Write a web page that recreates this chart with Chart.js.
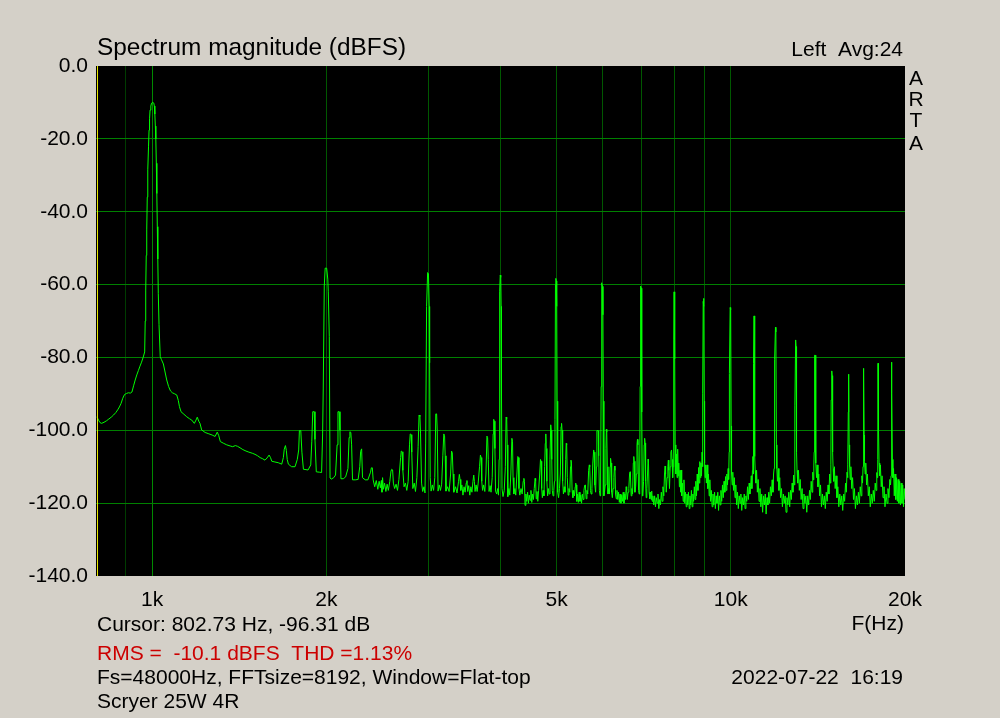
<!DOCTYPE html>
<html>
<head>
<meta charset="utf-8">
<title>Spectrum magnitude</title>
<script src="https://cdn.jsdelivr.net/npm/chart.js@4.4.1/dist/chart.umd.min.js"></script>
<style>
  html, body { margin: 0; padding: 0; background: #d4d0c8; overflow: hidden; }
  canvas { display: block; }
</style>
</head>
<body>
<canvas id="spectrumChart" width="1000" height="718"></canvas>
<script>
const spectrum = [
  [803,-96.3],[808,-97.2],[813,-97.9],[818,-98.1],[826,-97.8],[834,-97.4],[842,-96.9],[850,-96.4],
  [858,-95.8],[866,-95.1],[872,-94.4],[878,-93.6],[884,-92.6],[890,-91.2],[896,-90.2],[903,-89.9],
  [910,-89.7],[917,-89.8],[923,-89.5],[929,-87.8],[935,-86.2],[941,-84.8],[947,-83.6],[953,-82.4],
  [959,-81.3],[965,-80.0],[971,-78.5],
  // fundamental
  [973,-70.0],[975,-61.5],[977,-52.0],[979,-45.0],[981,-36.0],[983,-28.5],[986,-22.0],[988,-17.6],
  [990,-14.5],[992,-12.1],[995,-11.0],[998,-10.2],[1003,-10.0],[1007,-10.2],[1009,-11.0],[1011,-13.2],
  [1013,-16.5],[1015,-20.0],[1017,-26.7],[1019,-35.0],[1021,-44.1],[1023,-53.0],[1025,-62.4],[1028,-71.0],
  [1033,-79.8],[1038,-80.6],[1046,-81.8],[1053,-84.0],[1060,-86.2],[1068,-88.0],[1076,-89.2],[1084,-89.7],
  [1094,-90.0],[1103,-90.3],[1110,-91.8],[1115,-93.5],[1122,-94.9],[1135,-95.6],[1148,-96.3],[1160,-96.8],
  [1171,-97.2],[1183,-98.1],[1191,-97.2],[1197,-96.4],[1204,-97.5],[1210,-98.1],[1218,-99.9],[1235,-100.6],
  [1250,-100.9],[1270,-101.3],[1285,-101.7],[1296,-100.5],[1304,-101.5],[1312,-103.1],[1330,-103.6],[1346,-104.0],
  [1364,-104.3],[1378,-104.5],[1393,-104.2],[1405,-104.4],[1419,-104.8],[1435,-105.3],[1453,-105.7],[1470,-106.0],
  [1490,-106.3],[1506,-106.6],[1522,-107.0],[1537,-107.5],[1552,-107.8],[1567,-108.2],[1580,-107.6],[1593,-106.8],
  [1602,-107.5],[1610,-108.5],[1630,-108.7],[1652,-108.9],[1675,-109.3],[1686,-107.5],[1692,-105.2],[1700,-104.2],
  [1706,-105.5],[1712,-108.0],[1720,-109.3],[1742,-110.0],[1766,-110.0],[1782,-108.0],[1792,-105.4],[1797,-100.1],
  [1807,-100.1],[1815,-106.0],[1826,-110.7],[1845,-110.8],[1860,-110.9],[1880,-109.5],[1888,-103.0],[1895,-94.9],
  [1906,-94.9],[1912,-102.5],[1922,-111.4],[1945,-111.5],[1963,-111.6],[1971,-101.0],
  // 2nd harmonic
  [1976,-88.4],[1984,-60.4],[1991,-55.5],[2003,-55.5],[2012,-58.5],[2016,-62.0],[2024,-74.3],[2030,-113.1],
  [2040,-113.4],[2060,-113.0],[2075,-112.3],[2088,-104.0],[2095,-94.9],[2105,-94.9],[2112,-100.0],[2120,-113.3],
  [2140,-113.3],[2160,-112.8],[2180,-110.5],[2190,-102.0],[2197,-100.4],[2205,-100.6],[2212,-104.0],[2220,-113.6],
  [2245,-113.6],[2270,-113.5],[2285,-110.0],[2293,-105.8],[2302,-105.1],[2310,-113.0],[2335,-113.6],[2360,-113.6],
  [2385,-111.5],[2393,-110.3],[2402,-110.3],[2410,-113.6],[2425,-115.5],[2440,-113.8],[2455,-116.2],[2468,-114.0],
  [2480,-115.8],[2490,-113.8],[2496,-117.0],[2502,-113.0],[2510,-116.2],[2522,-114.5],[2535,-116.8],[2548,-114.8],
  [2560,-116.5],[2575,-114.0],[2588,-111.0],[2595,-110.7],[2604,-110.9],[2612,-114.5],[2625,-116.0],[2640,-114.8],
  [2655,-116.5],[2670,-113.5],[2688,-107.5],[2695,-105.7],[2704,-105.9],[2712,-111.0],[2725,-115.5],[2740,-114.5],
  [2755,-116.5],[2770,-114.0],[2785,-104.0],[2793,-101.0],[2803,-101.2],[2810,-106.0],[2822,-116.0],[2838,-114.5],
  [2852,-116.8],[2868,-113.0],[2882,-104.5],[2893,-95.8],[2903,-96.2],[2910,-101.0],[2922,-114.5],[2935,-116.8],
  [2950,-115.5],[2962,-117.2],
  // 3rd harmonic
  [2970,-103.5],[2981,-66.0],[2993,-56.7],[3003,-57.0],[3012,-66.0],[3017,-81.5],[3024,-113.0],
  [3035,-116.7],[3050,-115.0],[3065,-116.5],[3080,-113.0],[3092,-95.5],[3102,-95.5],[3110,-100.0],[3120,-116.7],
  [3135,-115.0],[3150,-116.5],[3165,-114.8],[3180,-107.0],[3192,-101.0],[3202,-101.5],[3210,-107.0],[3220,-116.7],
  [3240,-115.5],[3260,-116.8],[3280,-112.0],[3292,-105.7],[3302,-106.2],[3312,-112.0],[3322,-117.0],[3345,-115.5],
  [3365,-117.2],[3385,-114.0],[3396,-112.1],[3405,-113.5],[3415,-116.5],[3430,-115.0],[3445,-117.8],[3460,-115.5],
  [3475,-117.0],[3490,-114.5],[3500,-113.8],[3510,-116.8],[3525,-115.2],[3540,-117.8],[3555,-115.5],[3570,-117.0],
  [3585,-114.0],[3596,-112.3],[3605,-114.0],[3615,-116.8],[3630,-115.0],[3645,-116.8],[3660,-114.5],[3680,-110.0],
  [3693,-106.8],[3703,-107.5],[3712,-114.0],[3725,-116.5],[3740,-115.0],[3758,-116.8],[3775,-112.0],[3790,-101.6],
  [3800,-102.0],[3810,-108.0],[3822,-116.8],[3838,-115.2],[3852,-117.0],[3870,-113.0],[3885,-101.0],[3893,-97.0],
  [3903,-97.5],[3912,-105.0],[3922,-116.7],[3940,-117.5],[3955,-116.0],[3968,-117.8],
  // 4th harmonic
  [3978,-108.0],[3983,-90.8],[3990,-62.0],[3996,-57.4],[4004,-58.0],[4010,-66.0],[4016,-90.8],[4024,-116.0],
  [4040,-118.2],[4060,-116.5],[4078,-110.0],[4090,-96.4],[4100,-96.8],[4108,-104.0],[4118,-118.2],[4135,-116.0],
  [4150,-117.8],[4168,-112.0],[4185,-102.2],[4196,-103.0],[4205,-113.0],[4218,-117.5],[4235,-116.0],[4250,-117.8],
  [4270,-112.0],[4285,-107.2],[4296,-107.5],[4305,-116.0],[4320,-117.8],[4340,-116.0],[4360,-117.5],[4378,-114.0],
  [4390,-113.2],[4400,-114.0],[4410,-120.6],[4425,-117.5],[4440,-119.5],[4455,-117.0],[4470,-120.0],[4485,-117.8],
  [4500,-119.2],[4515,-116.5],[4530,-119.8],[4545,-117.5],[4560,-119.0],[4575,-116.0],[4590,-113.2],[4600,-114.0],
  [4610,-118.8],[4625,-116.8],[4640,-119.5],[4655,-116.5],[4675,-112.0],[4690,-108.0],[4700,-108.5],[4712,-116.0],
  [4725,-118.5],[4740,-116.5],[4755,-118.0],[4768,-110.0],[4780,-103.6],[4790,-101.0],[4800,-105.0],[4810,-114.0],
  [4825,-118.0],[4840,-116.0],[4855,-117.5],[4870,-108.0],[4885,-98.5],[4895,-100.0],[4905,-108.0],[4915,-116.5],
  [4930,-118.0],[4945,-116.5],[4958,-114.0],
  // 5th harmonic
  [4968,-97.0],[4978,-60.0],[4985,-58.3],[4995,-59.0],[5003,-66.0],[5010,-92.0],[5022,-117.0],
  [5040,-118.5],[5058,-116.0],[5075,-112.0],[5090,-99.0],[5100,-98.1],[5110,-100.0],[5122,-114.0],[5138,-117.5],
  [5155,-115.5],[5170,-117.0],[5185,-108.0],[5195,-103.6],[5205,-104.0],[5218,-113.0],[5235,-117.8],[5252,-116.0],
  [5270,-117.0],[5285,-110.0],[5295,-108.2],[5305,-109.0],[5318,-116.5],[5335,-118.5],[5352,-116.5],[5370,-118.0],
  [5385,-115.5],[5395,-114.5],[5405,-115.0],[5418,-119.5],[5435,-117.5],[5452,-119.8],[5470,-117.0],[5488,-119.5],
  [5505,-117.8],[5522,-120.0],[5540,-117.5],[5558,-119.0],[5575,-116.5],[5590,-115.2],[5600,-115.0],[5610,-116.0],
  [5625,-118.8],[5642,-116.5],[5660,-117.5],[5680,-111.0],[5695,-109.5],[5705,-110.0],[5720,-116.5],[5738,-117.5],
  [5755,-116.0],[5775,-109.0],[5795,-105.4],[5805,-106.0],[5822,-115.0],[5840,-117.0],[5858,-110.0],[5870,-100.1],
  [5900,-100.1],[5912,-107.0],[5928,-116.5],[5945,-118.0],[5958,-112.0],
  // 6th harmonic
  [5970,-88.0],[5978,-59.5],[5990,-59.8],[6005,-60.5],[6012,-68.3],[6022,-92.0],[6035,-118.0],
  [6050,-117.0],[6068,-115.0],[6085,-105.0],[6095,-99.7],[6105,-100.5],[6118,-110.0],[6135,-117.5],[6152,-116.0],
  [6170,-117.5],[6185,-110.0],[6198,-107.7],[6210,-109.0],[6225,-117.0],[6242,-118.5],[6260,-116.0],[6280,-113.0],
  [6295,-109.8],[6308,-111.0],[6322,-117.5],[6340,-118.8],[6358,-116.5],[6378,-119.0],[6398,-117.0],[6418,-119.8],
  [6438,-117.5],[6458,-120.0],[6478,-117.8],[6498,-119.5],[6518,-117.0],[6538,-120.0],[6558,-117.5],[6578,-119.0],
  [6595,-115.5],[6608,-116.5],[6625,-119.0],[6645,-117.0],[6665,-116.0],[6685,-112.0],[6698,-111.4],[6710,-113.0],
  [6728,-118.0],[6748,-116.0],[6765,-117.5],[6785,-109.0],[6798,-107.2],[6810,-108.5],[6828,-117.0],[6848,-115.5],
  [6865,-112.0],[6885,-104.0],[6898,-102.5],[6910,-104.0],[6928,-116.5],[6945,-117.5],[6960,-112.0],
  // 7th harmonic
  [6972,-88.0],[6980,-62.0],[6990,-60.4],[7005,-61.0],[7012,-70.0],[7022,-95.0],[7035,-118.0],
  [7050,-117.5],[7068,-114.0],[7085,-104.0],[7098,-102.2],[7110,-103.5],[7125,-114.0],[7142,-118.5],[7160,-116.0],
  [7180,-112.0],[7195,-107.9],[7208,-109.0],[7225,-117.0],[7245,-118.8],[7265,-117.0],[7285,-119.0],[7300,-116.7],
  [7315,-119.5],[7335,-118.0],[7360,-120.5],[7385,-118.0],[7410,-121.0],[7435,-118.5],[7460,-120.0],[7485,-117.5],
  [7510,-121.5],[7535,-119.0],[7560,-120.5],[7585,-117.0],[7610,-119.5],[7635,-115.5],[7660,-118.0],[7682,-112.0],
  [7700,-109.8],[7715,-112.0],[7735,-117.0],[7760,-113.0],[7785,-110.0],[7800,-108.2],[7815,-111.0],[7835,-116.0],
  [7858,-110.0],[7880,-106.0],[7900,-105.4],[7915,-108.0],[7935,-113.0],[7950,-110.0],
  // 8th harmonic
  [7965,-104.0],[7972,-75.2],[7980,-62.0],[7995,-62.5],[8005,-80.4],[8015,-104.0],
  [8035,-112.0],[8055,-106.5],[8075,-113.0],[8095,-105.2],[8110,-112.5],[8130,-109.0],[8150,-115.5],[8170,-111.0],
  [8190,-117.0],[8205,-110.9],[8225,-118.0],[8250,-114.5],[8275,-119.5],[8300,-113.6],[8325,-120.0],[8350,-117.0],
  [8375,-121.0],[8400,-117.5],[8425,-120.5],[8450,-117.0],[8475,-121.5],[8500,-118.0],[8525,-120.5],[8550,-116.5],
  [8575,-121.0],[8600,-117.5],[8625,-119.5],[8650,-115.5],[8675,-119.0],[8700,-114.0],[8725,-118.0],[8750,-112.0],
  [8775,-116.5],[8800,-110.2],[8820,-114.5],[8840,-108.6],[8860,-113.0],[8880,-109.0],[8900,-112.5],[8920,-106.0],
  [8935,-110.0],
  // 9th harmonic
  [8950,-90.0],[8960,-64.6],[8972,-63.8],[8985,-66.0],[8995,-92.0],[9010,-109.0],
  [9030,-113.0],[9050,-109.5],[9075,-114.5],[9100,-109.5],[9125,-116.0],[9150,-112.0],[9175,-118.0],[9200,-113.6],
  [9225,-119.5],[9255,-116.5],[9285,-121.0],[9315,-117.5],[9345,-120.5],[9375,-117.0],[9405,-121.5],[9435,-118.0],
  [9465,-120.0],[9495,-117.0],[9525,-122.0],[9555,-118.0],[9585,-120.5],[9615,-116.5],[9645,-119.5],[9675,-115.0],
  [9705,-118.5],[9735,-114.0],[9765,-117.0],[9795,-112.7],[9820,-116.5],[9845,-112.0],[9870,-115.0],[9895,-110.5],
  [9915,-113.5],
  // 10th harmonic
  [9935,-106.0],[9945,-84.4],[9975,-66.3],[9995,-67.0],[10015,-98.8],[10030,-112.0],
  [10055,-115.0],[10080,-111.5],[10110,-116.5],[10140,-113.0],[10170,-118.5],[10200,-115.0],[10235,-120.5],[10270,-117.0],
  [10305,-121.5],[10340,-118.0],[10375,-120.0],[10410,-117.5],[10445,-122.0],[10480,-118.5],[10515,-120.5],[10550,-117.5],
  [10585,-121.5],[10620,-118.0],[10655,-119.5],[10690,-115.5],[10725,-119.0],[10760,-114.5],[10790,-117.5],[10820,-115.4],
  [10850,-112.5],[10875,-116.0],[10900,-111.0],[10920,-107.2],[10935,-112.0],
  // 11th harmonic
  [10945,-81.6],[10970,-68.6],[10990,-70.0],[11005,-107.2],[11020,-111.0],
  [11050,-114.5],[11080,-111.0],[11115,-117.0],[11150,-113.5],[11190,-119.5],[11230,-116.0],[11270,-121.0],[11310,-117.5],
  [11350,-122.5],[11390,-118.0],[11430,-120.5],[11470,-117.5],[11510,-123.0],[11550,-118.5],[11590,-120.5],[11630,-117.0],
  [11670,-120.0],[11710,-115.5],[11750,-118.0],[11790,-113.6],[11825,-117.0],[11855,-112.0],[11880,-110.5],
  // 12th harmonic
  [11905,-80.5],[11945,-71.7],[11965,-73.0],[11990,-104.0],[12010,-110.5],
  [12040,-114.0],[12075,-110.5],[12110,-116.5],[12150,-113.0],[12190,-118.5],[12235,-116.0],[12280,-121.0],[12325,-117.5],
  [12370,-120.0],[12415,-118.0],[12460,-122.5],[12505,-118.5],[12550,-120.5],[12595,-117.0],[12640,-121.0],[12685,-116.5],
  [12725,-119.0],[12765,-114.5],[12805,-117.0],[12840,-112.3],[12875,-115.0],[12895,-108.0],
  // 13th harmonic
  [12910,-93.3],[12945,-75.2],[12965,-77.0],[12990,-106.0],[13015,-111.0],
  [13050,-114.5],[13090,-111.0],[13135,-116.5],[13180,-113.5],[13230,-119.0],[13280,-116.0],[13330,-121.5],[13380,-117.5],
  [13430,-120.0],[13480,-118.0],[13530,-122.5],[13580,-118.0],[13630,-120.5],[13680,-116.5],[13725,-119.0],[13770,-114.0],
  [13815,-117.0],[13855,-111.5],[13890,-113.6],[13915,-109.8],[13935,-106.0],
  // 14th harmonic
  [13960,-79.4],[13990,-79.4],[14010,-92.0],[14035,-109.0],
  [14065,-113.0],[14100,-109.5],[14145,-115.5],[14190,-112.0],[14240,-118.0],[14290,-115.0],[14345,-121.0],[14400,-117.5],
  [14455,-120.5],[14510,-118.0],[14565,-121.5],[14620,-117.0],[14675,-119.5],[14725,-115.0],[14775,-117.5],[14820,-112.0],
  [14860,-114.5],[14890,-109.5],
  // 15th harmonic
  [14910,-91.7],[14945,-83.7],[14970,-85.0],[14995,-106.0],[15025,-110.5],
  [15060,-114.0],[15100,-110.0],[15150,-116.0],[15200,-112.5],[15255,-118.5],[15310,-115.5],[15370,-121.0],[15430,-117.5],
  [15490,-120.5],[15550,-118.0],[15610,-122.0],[15670,-117.5],[15730,-119.5],[15785,-114.5],[15835,-117.0],[15880,-111.5],
  [15915,-113.0],[15940,-109.5],
  // 16th harmonic
  [15960,-95.0],[15975,-84.6],[15995,-86.0],[16015,-104.0],[16045,-110.0],
  [16080,-113.5],[16125,-110.0],[16180,-116.0],[16235,-113.0],[16295,-119.0],[16355,-116.0],[16420,-121.5],[16485,-118.0],
  [16550,-120.5],[16615,-117.0],[16680,-120.0],[16740,-115.5],[16795,-118.0],[16845,-112.5],[16890,-114.5],[16925,-110.0],
  // 17th harmonic
  [16950,-83.0],[16975,-84.5],[17000,-101.3],[17025,-108.5],
  [17065,-112.0],[17110,-109.0],[17165,-115.0],[17220,-112.0],[17285,-118.0],[17350,-115.5],[17420,-121.0],[17490,-117.5],
  [17560,-120.0],[17630,-116.5],[17700,-119.5],[17765,-114.5],[17825,-116.5],[17875,-111.6],[17915,-113.0],[17945,-108.0],
  // 18th harmonic
  [17965,-81.6],[17990,-82.0],[18010,-100.0],[18040,-109.0],
  [18085,-112.5],[18135,-109.5],[18195,-115.5],[18255,-112.5],[18325,-118.5],[18395,-115.5],[18470,-121.0],[18545,-117.5],
  [18620,-120.0],[18690,-116.0],[18760,-118.5],[18825,-113.5],[18880,-115.0],[18920,-112.5],[18945,-110.0],
  // 19th harmonic
  [18965,-81.3],[18990,-90.0],[19020,-108.0],
  [19060,-113.0],[19110,-110.5],[19165,-118.0],[19220,-112.0],[19280,-119.0],[19340,-113.0],[19400,-119.5],[19460,-113.5],
  [19520,-120.0],[19580,-114.0],[19640,-120.5],[19700,-114.5],[19760,-120.0],[19820,-115.0],[19880,-121.0],[19940,-116.0],
  [20000,-119.0]
];

const yTicksDb = [0, -20, -40, -60, -80, -100, -120, -140];
const xGridHz = [900, 1000, 2000, 3000, 4000, 5000, 6000, 7000, 8000, 9000, 10000, 20000];
const xLabelHz = [1000, 2000, 5000, 10000, 20000];
const xLabelText = ["1k", "2k", "5k", "10k", "20k"];

const cursorHz = 802.73;
const cursorDb = -96.31;
const rmsDbfs = -10.1;
const thdPercent = 1.13;
const averages = 24;

const FONT = "'Liberation Sans', Arial, sans-serif";
const BG = "#d4d0c8";

// Paint window background and the black plot field
const backgroundPlugin = {
  id: "background",
  beforeDraw(chart) {
    const { ctx, chartArea: a } = chart;
    ctx.save();
    ctx.fillStyle = BG;
    ctx.fillRect(0, 0, chart.width, chart.height);
    ctx.fillStyle = "#000";
    ctx.fillRect(a.left, a.top, a.right - a.left, a.bottom - a.top);
    ctx.restore();
  },
};

// Cursor line and the ARTA text blocks
const annotationPlugin = {
  id: "annotations",
  afterDatasetsDraw(chart) {
    const { ctx, chartArea: a } = chart;
    const x = Math.round(chart.scales.x.getPixelForValue(cursorHz)) + 0.5;
    ctx.save();
    ctx.strokeStyle = "#e6e600";
    ctx.lineWidth = 1;
    ctx.beginPath();
    ctx.moveTo(x, a.top);
    ctx.lineTo(x, a.bottom);
    ctx.stroke();
    ctx.restore();
  },
  afterDraw(chart) {
    const ctx = chart.ctx;
    ctx.save();
    ctx.fillStyle = "#000";
    ctx.textBaseline = "alphabetic";

    ctx.font = "24.4px " + FONT;
    ctx.textAlign = "left";
    ctx.fillText("Spectrum magnitude (dBFS)", 97, 55);

    ctx.font = "21px " + FONT;
    ctx.textAlign = "right";
    ctx.fillText("Left  Avg:" + averages, 903, 56);

    ctx.textAlign = "center";
    const arta = ["A", "R", "T", "A"];
    const artaY = [85, 106, 127, 150];
    arta.forEach((ch, i) => ctx.fillText(ch, 916, artaY[i]));

    ctx.textAlign = "left";
    ctx.fillText(`Cursor: ${cursorHz.toFixed(2)} Hz, ${cursorDb.toFixed(2)} dB`, 97, 631);
    ctx.textAlign = "right";
    ctx.fillText("F(Hz)", 904, 630);

    ctx.textAlign = "left";
    ctx.fillStyle = "#cc0000";
    ctx.fillText(`RMS =  ${rmsDbfs.toFixed(1)} dBFS  THD =${thdPercent.toFixed(2)}%`, 97, 660);

    ctx.fillStyle = "#000";
    ctx.fillText("Fs=48000Hz, FFTsize=8192, Window=Flat-top", 97, 684);
    ctx.textAlign = "right";
    ctx.fillText("2022-07-22  16:19", 903, 684);
    ctx.textAlign = "left";
    ctx.fillText("Scryer 25W 4R", 97, 708);
    ctx.restore();
  },
};

const ctx = document.getElementById("spectrumChart").getContext("2d");

const chart = new Chart(ctx, {
  type: "line",
  data: {
    datasets: [
      {
        label: "Left",
        data: spectrum.map(p => ({ x: p[0], y: p[1] })),
        borderColor: "#00ff00",
        borderWidth: 1,
        pointRadius: 0,
        tension: 0,
        fill: false,
      },
    ],
  },
  options: {
    responsive: false,
    animation: false,
    devicePixelRatio: 1,
    events: [],
    layout: { padding: { left: 0, top: 66, right: 95, bottom: 0 } },
    plugins: {
      legend: { display: false },
      tooltip: { enabled: false },
    },
    scales: {
      x: {
        type: "logarithmic",
        min: 800,
        max: 20000,
        afterBuildTicks: s => { s.ticks = xGridHz.map(v => ({ value: v })); },
        afterFit: s => { s.height = 142; },
        ticks: {
          autoSkip: false,
          maxRotation: 0,
          minRotation: 0,
          padding: 12,
          color: "#000",
          font: { family: FONT, size: 21 },
          callback: v => {
            const i = xLabelHz.indexOf(v);
            return i >= 0 ? xLabelText[i] : "";
          },
        },
        grid: {
          drawTicks: false,
          lineWidth: 1,
          color: c => {
            const v = c.tick && c.tick.value;
            if (v === 20000) return "rgba(0,0,0,0)";
            if (v === 1000) return "#008a00";
            if (v === 900) return "#003c00";
            return "#005800";
          },
        },
        border: { display: false },
      },
      y: {
        min: -140,
        max: 0,
        afterBuildTicks: s => { s.ticks = yTicksDb.map(v => ({ value: v })); },
        afterFit: s => { s.width = 96; },
        ticks: {
          padding: 8,
          color: "#000",
          font: { family: FONT, size: 21 },
          callback: v => v.toFixed(1),
        },
        grid: {
          drawTicks: false,
          lineWidth: 1,
          color: c => {
            const v = c.tick && c.tick.value;
            return v === 0 || v === -140 ? "rgba(0,0,0,0)" : "#008000";
          },
        },
        border: { display: false },
      },
    },
  },
  plugins: [backgroundPlugin, annotationPlugin],
});
</script>
</body>
</html>
